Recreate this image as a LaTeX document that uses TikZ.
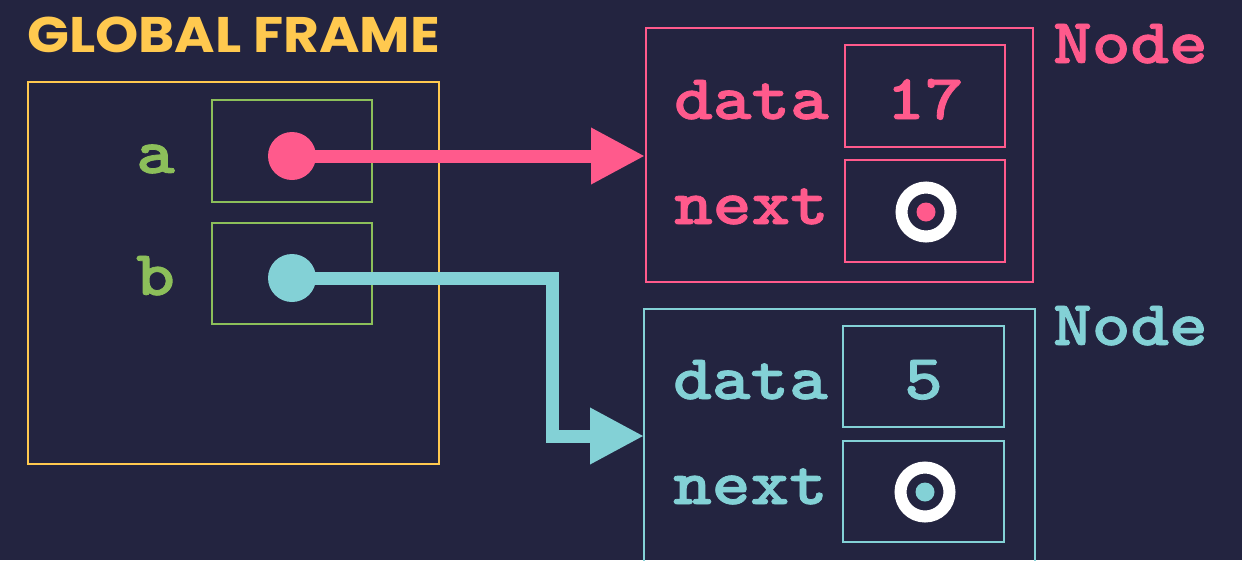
\documentclass[tikz,border=0pt]{standalone}
\usepackage{fontspec}
\usepackage{graphicx}
\usetikzlibrary{arrows.meta}
\newfontfamily\titlefont{Poppins}
\newfontfamily\codefont{lmmonolt10-bold.otf}[FakeBold=1.2]

\definecolor{bg}{HTML}{232440}
\definecolor{frameyellow}{HTML}{FFC94F}
\definecolor{refpink}{HTML}{FF5A8C}
\definecolor{refcyan}{HTML}{83D1D6}
\definecolor{vargreen}{HTML}{8CBF5A}

% heavy typewriter text, widened a little
\newcommand\codetext[1]{\scalebox{1.15}[1]{\codefont\fontsize{64}{64}\selectfont #1}}

\begin{document}
\begin{tikzpicture}[x=1pt,y=-1pt,
  cell/.style={draw=#1, line width=2pt, inner sep=0pt, fill=none},
  code/.style={inner sep=0pt, text=#1},
  dot/.style={circle, fill=#1, inner sep=0pt, minimum size=48pt},
  ring/.style={circle, draw=white, line width=12pt, fill=bg, inner sep=0pt,
    minimum size=49pt,
    path picture={\fill[#1] (path picture bounding box.center) circle (9.5pt);}},
  conn/.style={draw=#1, line width=13pt,
    -{Triangle[length=54pt,width=53pt]}},
  titlestyle/.style={inner sep=0pt, text=frameyellow,
    font=\titlefont\bfseries\fontsize{50}{50}\selectfont}
]
\useasboundingbox (0,0) rectangle (1242,560);
\clip (0,0) rectangle (1242,560);
\fill[bg] (0,0) rectangle (1242,560);

% global frame with its two variables
\node[titlestyle, anchor=base west] (title) at (27,52) {\scalebox{1.1}[1]{GLOBAL FRAME}};
\node[cell=frameyellow, line width=2.5pt, minimum width=411pt, minimum height=382pt] (frame) at (233.5,273) {};
\node[cell=vargreen, minimum width=160pt, minimum height=102pt] (abox) at (292,151) {};
\node[cell=vargreen, minimum width=160pt, minimum height=101pt] (bbox) at (292,273.5) {};
\node[code=vargreen, anchor=base] (alabel) at (155.5,173) {\codetext{a}};
\node[code=vargreen, anchor=base] (blabel) at (155.5,295) {\codetext{b}};

% first list node
\node[cell=refpink, minimum width=387pt, minimum height=254pt] (n1) at (839.5,155) {};
\node[cell=refpink, minimum width=160pt, minimum height=102pt] (n1data) at (925,96) {};
\node[cell=refpink, minimum width=160pt, minimum height=102pt] (n1next) at (925,211) {};
\node[code=refpink, anchor=base west] (n1dlab) at (674,119) {\codetext{data}};
\node[code=refpink, anchor=base west] (n1nlab) at (674,224) {\codetext{next}};
\node[code=refpink, anchor=base] (n1val) at (925,119) {\codetext{17}};
\node[ring=refpink] (n1ptr) at (926,212) {};
\node[code=refpink, anchor=base west] (n1title) at (1053,63) {\codetext{Node}};

% second list node
\node[cell=refcyan, minimum width=391pt, minimum height=291pt] (n2) at (839.5,454.5) {};
\node[cell=refcyan, minimum width=161pt, minimum height=101pt] (n2data) at (923.5,376.5) {};
\node[cell=refcyan, minimum width=161pt, minimum height=101pt] (n2next) at (923.5,491.5) {};
\node[code=refcyan, anchor=base west] (n2dlab) at (673,399) {\codetext{data}};
\node[code=refcyan, anchor=base west] (n2nlab) at (673,504) {\codetext{next}};
\node[code=refcyan, anchor=base] (n2val) at (923.5,399) {\codetext{5}};
\node[ring=refcyan] (n2ptr) at (925,492) {};
\node[code=refcyan, anchor=base west] (n2title) at (1053,345) {\codetext{Node}};

% references from the variables
\node[dot=refpink] (pa) at (292,156) {};
\node[dot=refcyan] (pb) at (292,278) {};
\coordinate (bbend) at (552,278);
\coordinate (n2in) at (644,436);
\draw[conn=refpink] (pa.center) -- (pa.center -| n1.west);
\draw[conn=refcyan] (pb.center) -- (bbend) -- (bbend |- n2in) -- (n2in);
\end{tikzpicture}
\end{document}
